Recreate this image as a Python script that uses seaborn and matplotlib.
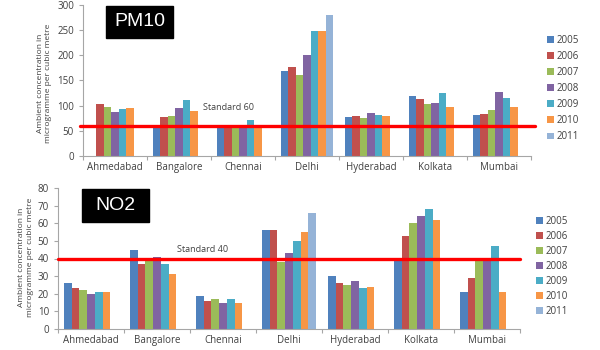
import numpy as np
import pandas as pd
import matplotlib
matplotlib.use("Agg")
import matplotlib.pyplot as plt
import seaborn as sns
from matplotlib.patches import Patch

cities = ["Ahmedabad", "Bangalore", "Chennai", "Delhi", "Hyderabad", "Kolkata", "Mumbai"]
years = ["2005", "2006", "2007", "2008", "2009", "2010", "2011"]
colors = ["#4F81BD", "#C0504D", "#9BBB59", "#8064A2", "#4BACC6", "#F79646", "#95B3D7"]

nan = np.nan
pm10_2005 = [nan, 60, 62, 168, 77, 120, 81]
pm10_2006 = [103, 77, 62, 177, 79, 113, 83]
pm10_2007 = [98, 79, 60, 161, 75, 104, 91]
pm10_2008 = [87, 96, 62, 200, 85, 106, 127]
pm10_2009 = [94, 112, 72, 248, 81, 125, 116]
pm10_2010 = [95, 89, 57, 249, 79, 98, 97]
pm10_2011 = [nan, nan, nan, 280, nan, nan, nan]

no2_2005 = [26, 45, 19, 56, 30, 40, 21]
no2_2006 = [23, 37, 16, 56, 26, 53, 29]
no2_2007 = [22, 39, 17, 38, 25, 60, 40]
no2_2008 = [20, 41, 15, 43, 27, 64, 40]
no2_2009 = [21, 37, 17, 50, 23, 68, 47]
no2_2010 = [21, 31, 15, 55, 24, 62, 21]
no2_2011 = [nan, nan, nan, 66, nan, nan, nan]

pm10_standard = 60
no2_standard = 40

def long_df(series):
    rows = []
    for y, vals in zip(years, series):
        for c, v in zip(cities, vals):
            rows.append({"city": c, "year": y, "value": v})
    return pd.DataFrame(rows).dropna()

df_pm = long_df([pm10_2005, pm10_2006, pm10_2007, pm10_2008, pm10_2009, pm10_2010, pm10_2011])
df_no = long_df([no2_2005, no2_2006, no2_2007, no2_2008, no2_2009, no2_2010, no2_2011])

sns.set_theme(style="white")
plt.rcParams["font.family"] = ["Open Sans", "DejaVu Sans"]

fig = plt.figure(figsize=(6, 3.5), dpi=100)
W, H = 600, 350

def add_ax(l, r, t, b):
    return fig.add_axes([l / W, 1 - b / H, (r - l) / W, (b - t) / H])

ax1 = add_ax(83, 531, 5, 156)
ax2 = add_ax(58, 520, 188, 329)

tick_col = "#404040"
spine_col = "#A6A6A6"

def style(ax, df, ymax, ystep, std, title, title_box, std_text_xy, line_ext):
    sns.barplot(data=df, x="city", y="value", hue="year", order=cities, hue_order=years,
                palette=colors, errorbar=None, width=0.82, saturation=1, ax=ax,
                legend=False, linewidth=0)
    ax.set_ylim(0, ymax)
    ax.set_xlim(-0.5, len(cities) - 0.5)
    ax.set_yticks(np.arange(0, ymax + 1, ystep))
    ax.set_xlabel("")
    ax.set_ylabel("")
    for s in ["top", "right"]:
        ax.spines[s].set_visible(False)
    for s in ["left", "bottom"]:
        ax.spines[s].set_color(spine_col)
        ax.spines[s].set_linewidth(0.8)
    ax.tick_params(axis="y", labelsize=7, colors=tick_col, length=3, width=0.8, direction="out", left=True, color=spine_col)
    ax.tick_params(axis="x", labelsize=7, colors=tick_col, length=0, pad=4)
    ax.set_xticks(np.arange(-0.5, len(cities), 1.0), minor=True)
    ax.tick_params(axis="x", which="minor", length=3, width=0.8, color=spine_col, bottom=True)
    ax.plot([line_ext[0], line_ext[1]], [std, std], color="#FF0000", lw=2.4,
            transform=ax.get_yaxis_transform(), clip_on=False, zorder=5)
    ax.text(std_text_xy[0], std_text_xy[1], f"Standard {std}", fontsize=6.5, color="#404040",
            transform=fig.transFigure, va="center", ha="left")
    x0, y0, x1, y1 = title_box
    fig.patches.append(plt.Rectangle((x0 / W, 1 - y1 / H), (x1 - x0) / W, (y1 - y0) / H,
                                     transform=fig.transFigure, color="black", zorder=10))
    fig.text((x0 + x1) / 2 / W, 1 - (y0 + y1) / 2 / H, title, color="white", fontsize=14,
             ha="center", va="center", family=["Liberation Sans", "DejaVu Sans"], zorder=11)

style(ax1, df_pm, 300, 50, pm10_standard, "PM10", (106, 6, 173, 38),
      (203 / W, 1 - 108 / H), (-0.007, 1.01))
style(ax2, df_no, 80, 10, no2_standard, "NO2", (82, 189, 149, 222),
      (177 / W, 1 - 249 / H), (0.0, 1.0))

ylab = "Ambient concentration in\nmicrogramme per cubic metre"
fig.text(44 / W, 1 - 83 / H, ylab, rotation=90, fontsize=6, color="#404040",
         ha="center", va="center", linespacing=1.2)
fig.text(26 / W, 1 - 257 / H, ylab, rotation=90, fontsize=6, color="#404040",
         ha="center", va="center", linespacing=1.2)

handles = [Patch(facecolor=c, edgecolor="none", label=y) for c, y in zip(colors, years)]
for ax, (lx, ly), sp in [(ax1, (547, 35), 0.52), (ax2, (536, 216), 0.41)]:
    leg = fig.legend(handles=handles, loc="upper left", bbox_to_anchor=(lx / W, 1 - ly / H),
                     frameon=False, fontsize=7, handlelength=0.7, handleheight=0.7,
                     handletextpad=0.3, labelspacing=sp, borderpad=0, borderaxespad=0)
    for t in leg.get_texts():
        t.set_color("#404040")

fig.savefig("out.png", dpi=100)
